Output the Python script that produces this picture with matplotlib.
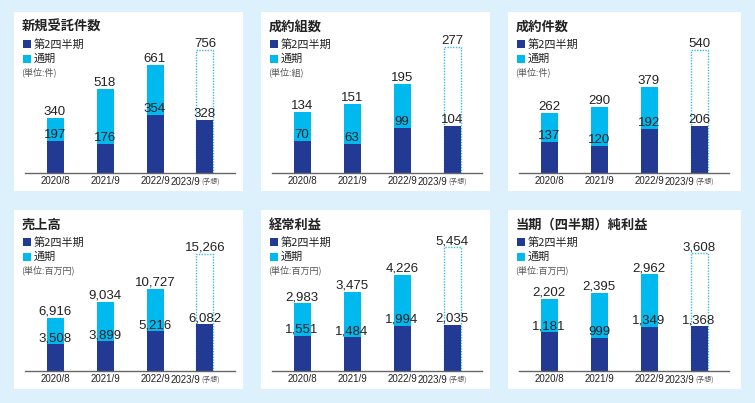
import matplotlib
matplotlib.use("Agg")
import matplotlib.pyplot as plt
from matplotlib import font_manager
from matplotlib.patches import Rectangle

names = {f.name for f in font_manager.fontManager.ttflist}
NUM_FONT = "Liberation Sans Narrow" if "Liberation Sans Narrow" in names else "Liberation Sans"
CJK = ["Noto Sans CJK JP", "DejaVu Sans"]
plt.rcParams['font.family'] = CJK

# ---------------- data ----------------
categories = ["2020/8", "2021/9", "2022/9", "2023/9"]
forecast_note = "(予想)"
legend_labels = ["第2四半期", "通期"]

titles = ["新規受託件数", "成約組数", "成約件数", "売上高", "経常利益", "当期（四半期）純利益"]
units = ["(単位:件)", "(単位:組)", "(単位:件)", "(単位:百万円)", "(単位:百万円)", "(単位:百万円)"]

q2_new_contracts = [197, 176, 354, 328]
full_new_contracts = [340, 518, 661, 756]
q2_couples = [70, 63, 99, 104]
full_couples = [134, 151, 195, 277]
q2_contracts = [137, 120, 192, 206]
full_contracts = [262, 290, 379, 540]
q2_sales = [3508, 3899, 5216, 6082]
full_sales = [6916, 9034, 10727, 15266]
q2_ordinary = [1551, 1484, 1994, 2035]
full_ordinary = [2983, 3475, 4226, 5454]
q2_net = [1181, 999, 1349, 1368]
full_net = [2202, 2395, 2962, 3608]

q2_series = [q2_new_contracts, q2_couples, q2_contracts, q2_sales, q2_ordinary, q2_net]
full_series = [full_new_contracts, full_couples, full_contracts, full_sales, full_ordinary, full_net]

# ---------------- style / layout ----------------
W, H = 755, 403
BG = "#dcf1fc"
DARK = "#233a95"
CYAN = "#00b9ef"
DOT = "#3ab8ea"
TXT = "#222222"

panel_x = [14, 261, 508]
panel_w = [229, 229, 233]
panel_y = [12, 210]
panel_h = 179
max_bar_px = [123, 126, 123, 117, 124, 118]

fig = plt.figure(figsize=(W / 100, H / 100), dpi=100)
fig.patch.set_facecolor(BG)


def fx(px):
    return px / W


def fy(py):
    return 1 - py / H


for i in range(6):
    row, col = divmod(i, 3)
    px0, py0, pw = panel_x[col], panel_y[row], panel_w[col]
    fig.patches.append(Rectangle((fx(px0), fy(py0 + panel_h)), pw / W, panel_h / H,
                                 transform=fig.transFigure, facecolor="white",
                                 edgecolor="none", zorder=-5))
    # title, legend, unit
    fig.text(fx(px0 + 8), fy(py0 + 15), titles[i], fontsize=9.5, fontweight="bold",
             color=TXT, va="center", ha="left")
    for k, (lab, c) in enumerate(zip(legend_labels, [DARK, CYAN])):
        cy = py0 + 32 + 15 * k
        fig.patches.append(Rectangle((fx(px0 + 9), fy(cy + 4)), 8 / W, 8 / H,
                                     transform=fig.transFigure, facecolor=c,
                                     edgecolor="none", zorder=1))
        fig.text(fx(px0 + 20), fy(cy), lab, fontsize=8, color=TXT, va="center", ha="left")
    fig.text(fx(px0 + 7), fy(py0 + 60), units[i], fontsize=6.5, color="#555555",
             va="center", ha="left")

    # bar axes
    ax_left = px0 + 11
    ax_w = 210
    ax_bottom = py0 + 161
    ax_top = py0 + 20
    ax_h = ax_bottom - ax_top
    ax = fig.add_axes([fx(ax_left), fy(ax_bottom), ax_w / W, ax_h / H])
    ax.set_zorder(3)
    ax.set_facecolor("none")
    q2 = q2_series[i]
    full = full_series[i]
    ymax = max(full) * ax_h / max_bar_px[i]
    ax.set_ylim(0, ymax)
    ax.set_xlim(-0.6, 3.6)
    xs = list(range(len(categories)))
    bw = 0.34
    # full-year (actual) bars
    ax.bar(xs[:3], full[:3], width=bw, color=CYAN, zorder=2)
    # forecast outline
    ax.bar(xs[3], full[3], width=bw, fill=False, edgecolor=DOT, linewidth=1.0,
           linestyle=(0, (1, 1)), zorder=3)
    ax.bar(xs, q2, width=bw, color=DARK, zorder=4)
    for x, a, b in zip(xs, q2, full):
        ax.annotate(f"{b:,}", (x, b), xytext=(0, 3), textcoords="offset pixels",
                    ha="center", va="baseline", fontsize=9.5, family=NUM_FONT,
                    color=TXT, zorder=6, annotation_clip=False)
        ax.annotate(f"{a:,}", (x, a), xytext=(0, 3), textcoords="offset pixels",
                    ha="center", va="baseline", fontsize=9.5, family=NUM_FONT,
                    color=TXT, zorder=6, annotation_clip=False)
    for s in ["top", "right", "left"]:
        ax.spines[s].set_visible(False)
    ax.spines["bottom"].set_color("#666666")
    ax.spines["bottom"].set_linewidth(1.0)
    ax.spines["bottom"].set_zorder(5)
    ax.set_yticks([])
    ax.set_xticks(xs[:3])
    ax.set_xticklabels(categories[:3], fontsize=7, family=NUM_FONT, color=TXT)
    ax.tick_params(axis="x", length=0, pad=2.5)
    # forecast category label
    ax.annotate(categories[3], (3, 0), xytext=(-5, -9), textcoords="offset pixels",
                ha="right", va="center", fontsize=7, family=NUM_FONT, color=TXT,
                annotation_clip=False)
    ax.annotate(forecast_note, (3, 0), xytext=(-4, -9), textcoords="offset pixels",
                ha="left", va="center", fontsize=5, color="#555555",
                annotation_clip=False)

fig.savefig("out.png", dpi=100, facecolor=BG)
